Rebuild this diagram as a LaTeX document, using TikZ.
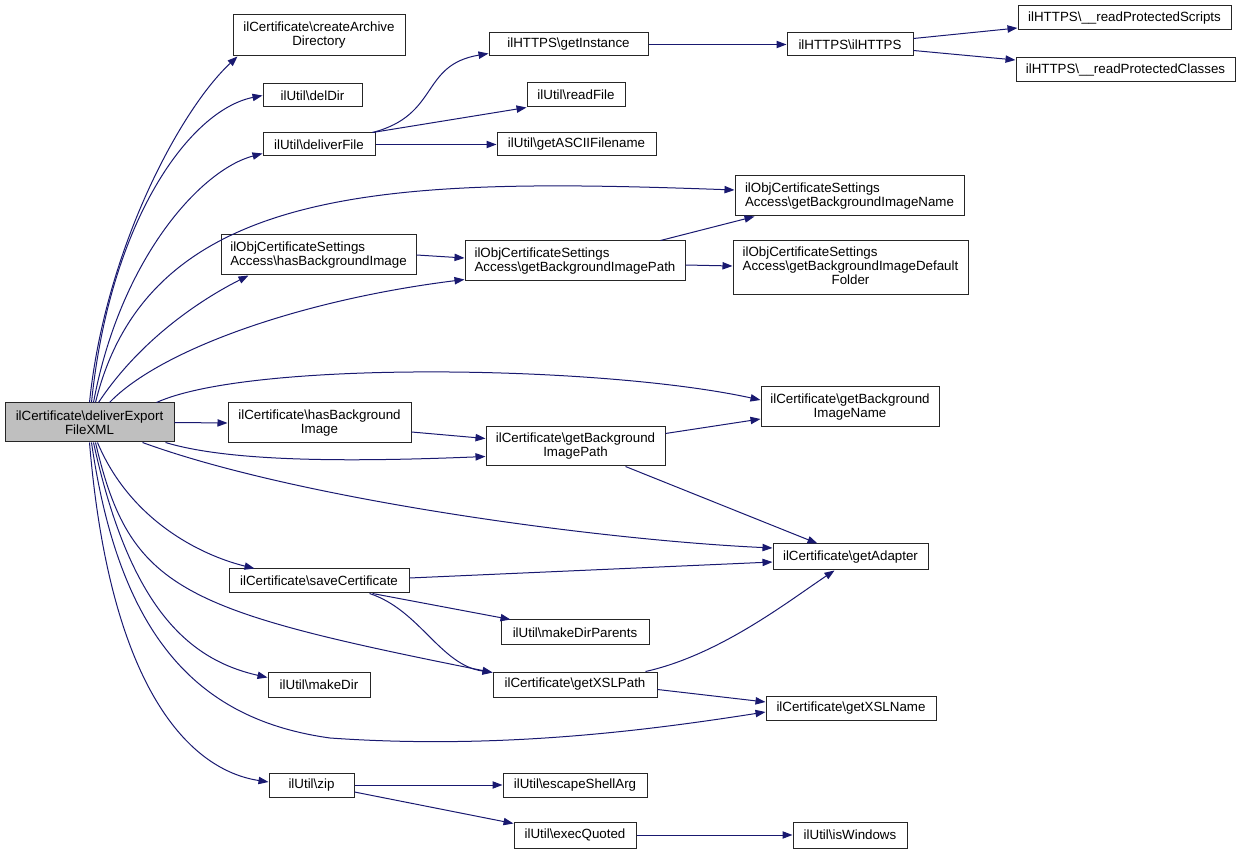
\documentclass[tikz,border=0pt]{standalone}
\usepackage{fontspec}
\setmainfont{Liberation Sans}
\usetikzlibrary{arrows.meta, calc}

\definecolor{edgeblue}{HTML}{191970}
\definecolor{nodegray}{HTML}{BFBFBF}

\begin{document}
\begin{tikzpicture}[
    x=0.75pt, y=-0.75pt,
    >={Triangle[length=7.5pt, width=5.5pt]},
    every node/.style={font=\fontsize{10}{10.5}\selectfont},
    fn/.style={draw=black!85, line width=0.75pt, fill=white, inner sep=0pt, align=center},
    fn left/.style={fn, align=left},
    boxsize/.style 2 args={minimum width=#1*0.75pt, minimum height=#2*0.75pt},
    call/.style={draw=edgeblue, line width=0.75pt, ->}
]
\useasboundingbox (0,0) rectangle (1240,855);

% ---- function boxes ----
\node[fn, boxsize={169}{39}, fill=nodegray] (main) at (89.5,422.5) {ilCertificate\textbackslash deliverExport\\FileXML};
\node[fn, boxsize={172}{41}] (createdir) at (319,35.5) {ilCertificate\textbackslash createArchive\\Directory};
\node[fn, boxsize={99}{23}] (deldir) at (312.5,95.5) {ilUtil\textbackslash delDir};
\node[fn, boxsize={112}{23}] (deliverfile) at (319,144.5) {ilUtil\textbackslash deliverFile};
\node[fn, boxsize={159}{23}] (getinstance) at (568.5,44.5) {ilHTTPS\textbackslash getInstance};
\node[fn, boxsize={98}{24}] (readfile) at (576,95) {ilUtil\textbackslash readFile};
\node[fn, boxsize={159}{23}] (asciiname) at (576.5,144.5) {ilUtil\textbackslash getASCIIFilename};
\node[fn, boxsize={126}{23}] (https) at (850,44.5) {ilHTTPS\textbackslash ilHTTPS};
\node[fn, boxsize={213}{24}] (scripts) at (1124.5,18) {ilHTTPS\textbackslash\_\_readProtectedScripts};
\node[fn, boxsize={219}{24}] (classes) at (1125.5,70) {ilHTTPS\textbackslash\_\_readProtectedClasses};
\node[fn left, boxsize={229}{40}] (setname) at (849.5,196) {ilObjCertificateSettings\\Access\textbackslash getBackgroundImageName};
\node[fn left, boxsize={195}{40}] (sethas) at (318.5,255) {ilObjCertificateSettings\\Access\textbackslash hasBackgroundImage};
\node[fn left, boxsize={220}{40}] (setpath) at (575,261) {ilObjCertificateSettings\\Access\textbackslash getBackgroundImagePath};
\node[fn, boxsize={235}{54}] (setfolder) at (850.5,268) {\begin{tabular}{@{}l@{}}ilObjCertificateSettings\\Access\textbackslash getBackgroundImageDefault\\\multicolumn{1}{@{}c@{}}{Folder}\end{tabular}};
\node[fn, boxsize={178}{40}] (certname) at (850,407) {ilCertificate\textbackslash getBackground\\ImageName};
\node[fn, boxsize={183}{40}] (certhas) at (319.5,423) {ilCertificate\textbackslash hasBackground\\Image};
\node[fn, boxsize={179}{39}] (certpath) at (575.5,446.5) {ilCertificate\textbackslash getBackground\\ImagePath};
\node[fn, boxsize={155}{26}] (adapter) at (850.5,557) {ilCertificate\textbackslash getAdapter};
\node[fn, boxsize={180}{24}] (save) at (319,581) {ilCertificate\textbackslash saveCertificate};
\node[fn, boxsize={148}{25}] (dirparents) at (575,632.5) {ilUtil\textbackslash makeDirParents};
\node[fn, boxsize={164}{25}] (xslpath) at (575,684.5) {ilCertificate\textbackslash getXSLPath};
\node[fn, boxsize={102}{25}] (makedir) at (319,684.5) {ilUtil\textbackslash makeDir};
\node[fn, boxsize={170}{24}] (xslname) at (851,708) {ilCertificate\textbackslash getXSLName};
\node[fn, boxsize={85}{24}] (zip) at (311.5,785) {ilUtil\textbackslash zip};
\node[fn, boxsize={144}{24}] (escape) at (575,785) {ilUtil\textbackslash escapeShellArg};
\node[fn, boxsize={122}{26}] (execquoted) at (575,835) {ilUtil\textbackslash execQuoted};
\node[fn, boxsize={114}{26}] (iswindows) at (850,835) {ilUtil\textbackslash isWindows};

% ---- calls from deliverExportFileXML ----
\draw[call] (main.north) .. controls (105,250) and (180,110) .. ($(createdir.south west)+(5,0)$);
\draw[call] ($(main.north)+(2,0)$) .. controls (110,220) and (190,110) .. (deldir.west);
\draw[call] ($(main.north)+(4,0)$) .. controls (120,260) and (200,170) .. ($(deliverfile.south west)+(0,-3)$);
\draw[call] ($(main.north)+(6,0)$) .. controls (150,180) and (400,178) .. ($(setname.west)+(0,-6)$);
\draw[call] ($(main.north)+(9,0)$) .. controls (140,340) and (200,300) .. ($(sethas.south west)+(28,0)$);
\draw[call] ($(main.north)+(20,0)$) .. controls (160,350) and (300,300) .. ($(setpath.south west)+(0,-2)$);
\draw[call] ($(main.north east)+(-18,0)$) .. controls (250,360) and (600,365) .. ($(certname.west)+(0,-7)$);
\draw[call] (main.east) -- (certhas.west);
\draw[call] ($(main.south east)+(-9,0)$) .. controls (230,462) and (350,462) .. ($(certpath.west)+(0,10)$);
\draw[call] ($(main.south)+(53,0)$) .. controls (300,500) and (600,540) .. ($(adapter.west)+(0,-9)$);
\draw[call] ($(main.south)+(8,0)$) .. controls (130,520) and (200,555) .. ($(save.north west)+(26,0)$);
\draw[call] ($(main.south)+(6,0)$) .. controls (130,590) and (180,610) .. ($(xslpath.north west)+(0,1)$);
\draw[call] ($(main.south)+(4,0)$) .. controls (130,610) and (190,660) .. ($(makedir.west)+(0,-7)$);
\draw[call] ($(main.south)+(2,0)$) .. controls (120,640) and (200,720) .. (330,738)
    .. controls (500,750) and (650,730) .. ($(xslname.west)+(0,4)$);
\draw[call] (main.south) .. controls (110,690) and (190,770) .. ($(zip.west)+(0,-3)$);

% ---- further calls ----
\draw[call] ($(deliverfile.north east)+(-3,0)$) .. controls (440,115) and (420,65) .. ($(getinstance.south west)+(0,-3)$);
\draw[call] ($(deliverfile.north east)+(-3,0)$) -- (readfile.south west);
\draw[call] (deliverfile.east) -- (asciiname.west);
\draw[call] (getinstance.east) -- (https.west);
\draw[call] ($(https.east)+(0,-6)$) -- ($(scripts.west)+(0,10)$);
\draw[call] ($(https.east)+(0,6)$) -- ($(classes.west)+(0,-10)$);
\draw[call] (sethas.east) -- ($(setpath.west)+(0,-3)$);
\draw[call] ($(setpath.north east)+(-25,0)$) -- ($(setname.south west)+(20,0)$);
\draw[call] ($(setpath.east)+(0,4)$) -- ($(setfolder.west)+(0,-2)$);
\draw[call] ($(certhas.east)+(0,9)$) -- ($(certpath.west)+(0,-8)$);
\draw[call] ($(certpath.east)+(0,-13)$) -- ($(certname.west)+(0,12)$);
\draw[call] ($(certpath.south east)+(-40,0)$) -- ($(adapter.north west)+(45,0)$);
\draw[call] ($(save.east)+(0,-3)$) -- ($(adapter.west)+(0,5)$);
\draw[call] ($(save.south east)+(-37,0)$) -- ($(dirparents.north west)+(10,0)$);
\draw[call] ($(save.south east)+(-40,0)$) .. controls (420,610) and (440,665) .. ($(xslpath.north west)+(0,1)$);
\draw[call] ($(xslpath.north east)+(-12,0)$) .. controls (720,655) and (790,600) .. ($(adapter.south west)+(62,0)$);
\draw[call] ($(xslpath.east)+(0,5)$) -- ($(xslname.west)+(0,-6)$);
\draw[call] (zip.east) -- (escape.west);
\draw[call] ($(zip.east)+(0,7)$) -- ($(execquoted.north west)+(0,2)$);
\draw[call] (execquoted.east) -- (iswindows.west);

\end{tikzpicture}
\end{document}
